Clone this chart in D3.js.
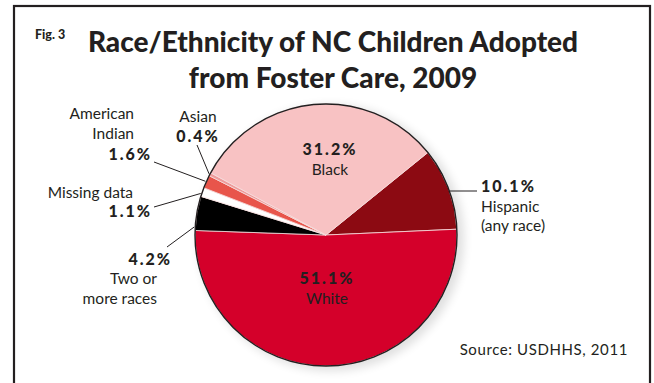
<!DOCTYPE html>
<html>
<head>
<meta charset="utf-8">
<script src="https://cdn.jsdelivr.net/npm/d3@7"></script>
<style>
  body { margin: 0; background: #fff; }
  svg text { fill: #231f20; }
</style>
</head>
<body>
<div id="chart"></div>
<script>
// Data (clockwise from the Hispanic / Black boundary)
const categories = ["Hispanic", "White", "Two or more races", "Missing data", "American Indian", "Asian", "Black"];
const values = [10.1, 51.1, 4.2, 1.1, 1.6, 0.4, 31.2];
const sliceColors = ["#8c0a12", "#d4002a", "#000000", "#ffffff", "#e8554b", "#ee9c9c", "#f8c2c3"];

const width = 654, height = 383;
const cx = 326, cy = 235, r = 131;

const svg = d3.select("#chart").append("svg")
    .attr("width", width).attr("height", height);

// Frame
svg.append("rect")
    .attr("x", 14).attr("y", 6).attr("width", 636).attr("height", 400)
    .attr("fill", "none").attr("stroke", "#231f20").attr("stroke-width", 2.2);

// Titles
svg.append("text").attr("x", 35).attr("y", 39)
    .attr("font-family", "Lato").attr("font-weight", 900).attr("font-size", 12.5)
    .text("Fig. 3");

const titleLines = ["Race/Ethnicity of NC Children Adopted", "from Foster Care, 2009"];
svg.selectAll("text.title").data(titleLines).join("text")
    .attr("class", "title")
    .attr("x", 333).attr("y", (d, i) => 52 + i * 36)
    .attr("text-anchor", "middle")
    .attr("font-family", "Lato").attr("font-weight", 900).attr("font-size", 28)
    .text(d => d);

// Pie
const defs = svg.append("defs");
defs.append("filter").attr("id", "shadow").attr("x", "-20%").attr("y", "-20%").attr("width", "140%").attr("height", "140%")
    .append("feGaussianBlur").attr("stdDeviation", 5);

const pie = d3.pie().sort(null).value(d => d)
    .startAngle(51 * Math.PI / 180).endAngle(411 * Math.PI / 180);
const arcs = pie(values);
const arc = d3.arc().innerRadius(0).outerRadius(r);

const g = svg.append("g").attr("transform", `translate(${cx},${cy})`);

g.append("circle").attr("cx", 5).attr("cy", 3).attr("r", r + 2)
    .attr("fill", "#000").attr("opacity", 0.12).attr("filter", "url(#shadow)");

g.selectAll("path.slice").data(arcs).join("path")
    .attr("class", "slice")
    .attr("d", arc)
    .attr("fill", (d, i) => sliceColors[i])
    .attr("stroke", "#f6dede").attr("stroke-width", 0.8);

g.append("circle").attr("r", r)
    .attr("fill", "none").attr("stroke", "#231f20").attr("stroke-width", 1.4);

// Labels: one text element per line; leader drawn from the slice edge
const labels = [
    { i: 6, lines: [["31.2%", true], ["Black", false]], x: 330, y: 155, anchor: "middle" },
    { i: 1, lines: [["51.1%", true], ["White", false]], x: 327, y: 284, anchor: "middle" },
    { i: 0, lines: [["10.1%", true], ["Hispanic", false], ["(any race)", false]], x: 481, y: 192, anchor: "start",
      lead: { t: 0.5, x2: 477, y2: 191, straight: true } },
    { i: 5, lines: [["Asian", false], ["0.4%", true]], x: 198, y: 122, anchor: "middle",
      lead: { t: 0.5, x2: 197, y2: 145 } },
    { i: 4, lines: [["American", false], ["Indian", false]], x: 134, y: 119, anchor: "end" },
    { i: 4, lines: [["1.6%", true]], x: 152, y: 160, anchor: "end",
      lead: { t: 0.5, x2: 154, y2: 162 } },
    { i: 3, lines: [["Missing data", false]], x: 133, y: 198, anchor: "end" },
    { i: 3, lines: [["1.1%", true]], x: 152, y: 217, anchor: "end",
      lead: { t: 0.3, x2: 154, y2: 207 } },
    { i: 2, lines: [["4.2%", true]], x: 172, y: 265, anchor: "end",
      lead: { t: 0.1, x2: 167, y2: 247 } },
    { i: 2, lines: [["Two or", false], ["more races", false]], x: 157, y: 284, anchor: "end" }
];

labels.forEach(l => {
    let y = l.y;
    l.lines.forEach(([txt, bold], k) => {
        if (k > 0) y += 19.5;
        svg.append("text")
            .attr("x", l.x).attr("y", y)
            .attr("text-anchor", l.anchor)
            .attr("font-family", "Lato")
            .attr("font-weight", bold ? 900 : 400)
            .attr("font-size", bold ? 16 : 15.5)
            .attr("letter-spacing", bold ? 2 : 0)
            .text(txt);
    });
    if (l.lead) {
        const d = arcs[l.i];
        const a = d.startAngle + l.lead.t * (d.endAngle - d.startAngle);
        const px = cx + (r + 1) * Math.sin(a), py = cy - (r + 1) * Math.cos(a);
        svg.append("line")
            .attr("x1", px).attr("y1", l.lead.straight ? l.lead.y2 : py)
            .attr("x2", l.lead.x2).attr("y2", l.lead.y2)
            .attr("stroke", "#231f20").attr("stroke-width", 1);
    }
});

svg.append("text").attr("x", 628).attr("y", 355)
    .attr("text-anchor", "end")
    .attr("font-family", "Lato").attr("font-size", 15).attr("letter-spacing", 0.6)
    .text("Source: USDHHS, 2011");
</script>
</body>
</html>
